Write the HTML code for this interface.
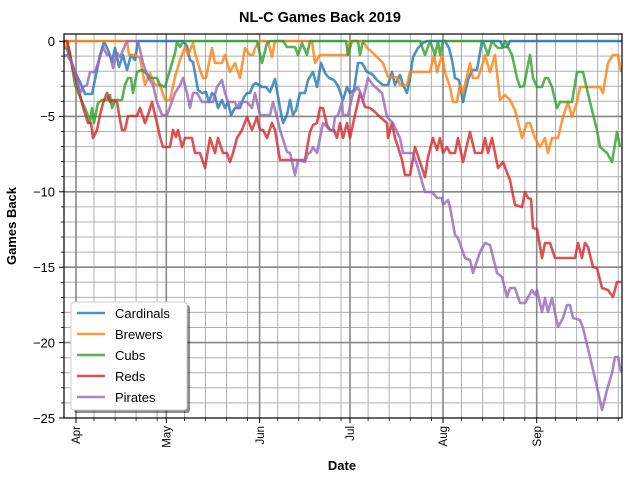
<!DOCTYPE html>
<html><head><meta charset="utf-8"><style>
html,body{margin:0;padding:0;background:#fff;}
svg{display:block;font-family:"Liberation Sans","DejaVu Sans",sans-serif;}
</style></head><body>
<svg width="640" height="480" viewBox="0 0 640 480" xmlns="http://www.w3.org/2000/svg">
<rect width="640" height="480" fill="#fff"/>
<text x="320" y="22" font-size="14.5" font-weight="bold" text-anchor="middle">NL-C Games Back 2019</text>
<!-- minor horizontal grid -->
<g stroke="#b0b0b0" stroke-width="1">
<line x1="64" x2="622" y1="56.1" y2="56.1"/><line x1="64" x2="622" y1="71.2" y2="71.2"/><line x1="64" x2="622" y1="86.2" y2="86.2"/><line x1="64" x2="622" y1="101.3" y2="101.3"/>
<line x1="64" x2="622" y1="131.5" y2="131.5"/><line x1="64" x2="622" y1="146.6" y2="146.6"/><line x1="64" x2="622" y1="161.6" y2="161.6"/><line x1="64" x2="622" y1="176.7" y2="176.7"/>
<line x1="64" x2="622" y1="206.9" y2="206.9"/><line x1="64" x2="622" y1="222" y2="222"/><line x1="64" x2="622" y1="237" y2="237"/><line x1="64" x2="622" y1="252.1" y2="252.1"/>
<line x1="64" x2="622" y1="282.3" y2="282.3"/><line x1="64" x2="622" y1="297.4" y2="297.4"/><line x1="64" x2="622" y1="312.4" y2="312.4"/><line x1="64" x2="622" y1="327.5" y2="327.5"/>
<line x1="64" x2="622" y1="357.7" y2="357.7"/><line x1="64" x2="622" y1="372.8" y2="372.8"/><line x1="64" x2="622" y1="387.8" y2="387.8"/><line x1="64" x2="622" y1="402.9" y2="402.9"/>
<!-- minor vertical -->
<line y1="34" y2="418" x1="94" x2="94"/><line y1="34" y2="418" x1="115.1" x2="115.1"/><line y1="34" y2="418" x1="136.1" x2="136.1"/><line y1="34" y2="418" x1="157.1" x2="157.1"/>
<line y1="34" y2="418" x1="184.5" x2="184.5"/><line y1="34" y2="418" x1="205.5" x2="205.5"/><line y1="34" y2="418" x1="226.5" x2="226.5"/><line y1="34" y2="418" x1="247.6" x2="247.6"/>
<line y1="34" y2="418" x1="277.7" x2="277.7"/><line y1="34" y2="418" x1="298.8" x2="298.8"/><line y1="34" y2="418" x1="319.9" x2="319.9"/><line y1="34" y2="418" x1="341" x2="341"/>
<line y1="34" y2="418" x1="368.1" x2="368.1"/><line y1="34" y2="418" x1="389.2" x2="389.2"/><line y1="34" y2="418" x1="410.3" x2="410.3"/><line y1="34" y2="418" x1="431.4" x2="431.4"/>
<line y1="34" y2="418" x1="461.5" x2="461.5"/><line y1="34" y2="418" x1="482.6" x2="482.6"/><line y1="34" y2="418" x1="503.7" x2="503.7"/><line y1="34" y2="418" x1="524.8" x2="524.8"/>
<line y1="34" y2="418" x1="555.5" x2="555.5"/><line y1="34" y2="418" x1="576.6" x2="576.6"/><line y1="34" y2="418" x1="597.6" x2="597.6"/><line y1="34" y2="418" x1="618.3" x2="618.3"/>
</g>
<!-- major grid -->
<g stroke="#888" stroke-width="1.6">
<line x1="64" x2="622" y1="41.3" y2="41.3"/><line x1="64" x2="622" y1="116.4" y2="116.4"/><line x1="64" x2="622" y1="191.8" y2="191.8"/><line x1="64" x2="622" y1="267.2" y2="267.2"/><line x1="64" x2="622" y1="342.6" y2="342.6"/>
<line y1="34" y2="418" x1="76" x2="76"/><line y1="34" y2="418" x1="166.3" x2="166.3"/><line y1="34" y2="418" x1="259.6" x2="259.6"/><line y1="34" y2="418" x1="350" x2="350"/><line y1="34" y2="418" x1="443" x2="443"/><line y1="34" y2="418" x1="536.7" x2="536.7"/>
</g>
<g fill="none" stroke-width="2.6" stroke-linejoin="round" stroke-opacity="0.8">
<polyline stroke="#1f77b4" points="64,47 67,49 70,58 75,72 80,82 85,94 92,94 95,80 100,55 104,42 108,50 112,62 115,48 119,67 123,55 127,70 131,55 135,60 138,41 183,41 187,46 190,60 193,62 198,90 202,93 206,92 209,102 212,93 215,96 218,108 222,100 225,108 228,102 231,115 235,108 240,108 244,97 247,93 250,93 253,85 256,83 259,85 262,87 266,87 270,92 275,79 280,108 283,123 287,115 290,100 293,115 296,110 300,93 305,93 308,80 313,72 317,87 321,63 325,73 329,78 334,80 338,86 343,100 347,87 350,93 354,90 358,63 362,63 367,72 372,74 377,80 383,85 388,85 392,72 395,85 400,75 403,85 407,93 410,78 413,57 418,48 423,43 427,41 445,41 449,48 452,60 455,78 459,80 463,102 468,80 472,70 477,70 482,41 500,41 503,47 507,47 510,41 622,41"/>
<polyline stroke="#ff7f0e" points="64,41 65,47 67,47 69,41 127,41 129,55 135,55 140,58 145,85 150,73 155,85 160,85 165,100 170,100 175,77 180,60 185,47 188,55 193,43 195,53 200,70 203,78 206,78 212,48 215,63 222,63 225,55 230,72 235,63 240,78 245,48 250,55 253,55 255,48 260,41 268,41 272,57 275,41 312,41 315,63 320,55 327,55 347,55 350,41 363,41 367,48 372,52 378,58 383,63 388,77 397,77 400,85 407,85 410,72 427,72 430,72 434,55 437,72 442,55 445,72 450,87 453,102 457,102 460,85 463,93 470,63 473,78 478,78 483,63 485,55 490,72 495,55 500,100 505,95 510,100 515,110 522,138 527,123 530,123 535,138 540,147 545,138 548,153 552,138 558,138 563,117 568,102 572,117 577,102 580,87 600,87 603,93 608,63 613,55 618,55 621,72"/>
<polyline stroke="#2ca02c" points="64,41 67,41 70,53 75,85 80,97 87,113 90,123 92,108 94,123 98,103 102,100 107,100 110,95 112,108 115,100 122,100 125,85 128,78 131,78 133,93 137,72 142,70 145,72 150,78 157,78 160,85 165,87 170,70 175,53 177,42 180,47 183,41 257,41 262,63 267,43 270,41 283,41 287,47 295,47 298,55 302,43 307,55 310,41 346,41 348,55 352,41 358,41 360,55 363,41 420,41 425,55 430,41 435,55 438,41 440,55 443,41 480,41 483,41 488,55 492,41 495,45 498,48 502,48 505,41 508,47 512,55 517,78 520,87 524,86 527,70 530,55 533,78 537,87 542,87 545,78 548,78 552,87 557,108 560,102 572,102 577,72 583,72 590,102 597,130 600,147 607,153 612,162 617,132 620,147"/>
<polyline stroke="#d62728" points="64,41 67,41 70,55 73,70 78,87 83,107 88,123 91,123 93,138 97,130 100,115 103,103 107,93 110,102 113,100 117,102 120,120 122,130 125,130 128,116 137,116 140,108 145,123 148,115 152,102 155,115 157,123 160,137 163,147 170,147 173,130 176,137 178,130 182,147 185,138 192,138 195,153 200,153 205,168 210,138 215,153 218,138 223,153 227,153 230,162 233,153 237,138 242,130 247,117 252,130 257,117 260,130 263,130 267,138 272,123 275,130 280,160 300,160 305,160 308,143 310,132 313,125 317,123 320,108 323,108 327,125 330,130 334,130 337,138 340,123 343,138 347,123 350,138 355,115 360,93 365,107 370,108 375,112 380,117 387,123 388,138 392,123 395,138 398,147 402,160 405,175 410,175 415,147 420,162 425,177 428,157 433,138 437,150 440,138 443,153 447,147 450,153 455,153 458,138 463,162 470,132 475,153 482,153 485,138 488,153 492,138 498,168 503,162 510,180 515,205 522,207 525,192 528,198 531,199 533,228 537,229 542,258 545,243 550,243 555,258 575,258 578,243 582,258 585,243 588,247 593,267 597,268 602,288 608,290 613,297 617,282 621,282"/>
<polyline stroke="#9467bd" points="64,56 67,55 72,63 77,78 80,93 83,87 87,85 90,72 95,72 100,57 103,47 107,55 110,55 113,68 117,53 120,57 127,41 138,41 143,63 148,77 153,85 157,102 162,115 167,115 170,107 175,93 180,85 183,78 187,93 190,108 193,93 197,93 202,102 213,102 217,87 222,80 225,93 228,102 235,102 237,108 240,102 247,102 252,108 255,93 260,115 270,115 273,102 277,117 280,130 287,152 290,153 295,175 298,160 305,162 308,153 310,153 313,147 317,153 320,138 323,123 330,130 333,131 335,117 338,115 342,102 343,115 348,115 353,93 358,87 363,100 368,78 373,85 382,93 387,117 393,123 397,132 400,138 403,153 413,153 418,168 425,192 432,192 437,198 442,198 443,205 448,200 450,207 455,235 458,238 465,258 470,260 473,273 480,252 485,243 490,245 497,273 502,277 507,297 510,288 515,288 520,303 525,303 532,290 535,295 537,290 542,312 545,298 548,312 552,298 558,327 563,318 567,305 570,305 573,318 580,320 583,328 590,357 597,387 602,410 607,390 612,373 615,357 618,357 621,372"/>
</g>
<!-- axes frame -->
<rect x="64" y="34" width="558" height="384" fill="none" stroke="#000" stroke-width="1.2"/>
<!-- y ticks -->
<g stroke="#000" stroke-width="1">
<line x1="59" x2="64" y1="41.3" y2="41.3"/><line x1="59" x2="64" y1="116.4" y2="116.4"/><line x1="59" x2="64" y1="191.8" y2="191.8"/><line x1="59" x2="64" y1="267.2" y2="267.2"/><line x1="59" x2="64" y1="342.6" y2="342.6"/><line x1="59" x2="64" y1="418" y2="418"/>
<line x1="76" x2="76" y1="418" y2="423"/><line x1="166.3" x2="166.3" y1="418" y2="423"/><line x1="259.6" x2="259.6" y1="418" y2="423"/><line x1="350" x2="350" y1="418" y2="423"/><line x1="443" x2="443" y1="418" y2="423"/><line x1="536.7" x2="536.7" y1="418" y2="423"/>
</g>
<g stroke="#000" stroke-width="0.8">
<line x1="61" x2="64" y1="56.1" y2="56.1"/><line x1="61" x2="64" y1="71.2" y2="71.2"/><line x1="61" x2="64" y1="86.2" y2="86.2"/><line x1="61" x2="64" y1="101.3" y2="101.3"/>
<line x1="61" x2="64" y1="131.5" y2="131.5"/><line x1="61" x2="64" y1="146.6" y2="146.6"/><line x1="61" x2="64" y1="161.6" y2="161.6"/><line x1="61" x2="64" y1="176.7" y2="176.7"/>
<line x1="61" x2="64" y1="206.9" y2="206.9"/><line x1="61" x2="64" y1="222" y2="222"/><line x1="61" x2="64" y1="237" y2="237"/><line x1="61" x2="64" y1="252.1" y2="252.1"/>
<line x1="61" x2="64" y1="282.3" y2="282.3"/><line x1="61" x2="64" y1="297.4" y2="297.4"/><line x1="61" x2="64" y1="312.4" y2="312.4"/><line x1="61" x2="64" y1="327.5" y2="327.5"/>
<line x1="61" x2="64" y1="357.7" y2="357.7"/><line x1="61" x2="64" y1="372.8" y2="372.8"/><line x1="61" x2="64" y1="387.8" y2="387.8"/><line x1="61" x2="64" y1="402.9" y2="402.9"/>
<line y1="418" y2="421" x1="94" x2="94"/><line y1="418" y2="421" x1="115.1" x2="115.1"/><line y1="418" y2="421" x1="136.1" x2="136.1"/><line y1="418" y2="421" x1="157.1" x2="157.1"/>
<line y1="418" y2="421" x1="184.5" x2="184.5"/><line y1="418" y2="421" x1="205.5" x2="205.5"/><line y1="418" y2="421" x1="226.5" x2="226.5"/><line y1="418" y2="421" x1="247.6" x2="247.6"/>
<line y1="418" y2="421" x1="277.7" x2="277.7"/><line y1="418" y2="421" x1="298.8" x2="298.8"/><line y1="418" y2="421" x1="319.9" x2="319.9"/><line y1="418" y2="421" x1="341" x2="341"/>
<line y1="418" y2="421" x1="368.1" x2="368.1"/><line y1="418" y2="421" x1="389.2" x2="389.2"/><line y1="418" y2="421" x1="410.3" x2="410.3"/><line y1="418" y2="421" x1="431.4" x2="431.4"/>
<line y1="418" y2="421" x1="461.5" x2="461.5"/><line y1="418" y2="421" x1="482.6" x2="482.6"/><line y1="418" y2="421" x1="503.7" x2="503.7"/><line y1="418" y2="421" x1="524.8" x2="524.8"/>
<line y1="418" y2="421" x1="555.5" x2="555.5"/><line y1="418" y2="421" x1="576.6" x2="576.6"/><line y1="418" y2="421" x1="597.6" x2="597.6"/><line y1="418" y2="421" x1="618.3" x2="618.3"/>
</g>
<g font-size="13" text-anchor="end">
<text x="55" y="46">0</text><text x="55" y="121">−5</text><text x="55" y="196.5">−10</text><text x="55" y="272">−15</text><text x="55" y="347.5">−20</text><text x="55" y="423">−25</text>
</g>
<g font-size="11.5" text-anchor="end">
<text transform="translate(80,426) rotate(-90)">Apr</text>
<text transform="translate(170.5,426) rotate(-90)">May</text>
<text transform="translate(264,426) rotate(-90)">Jun</text>
<text transform="translate(354,426) rotate(-90)">Jul</text>
<text transform="translate(447,426) rotate(-90)">Aug</text>
<text transform="translate(541,426) rotate(-90)">Sep</text>
</g>
<text x="342" y="470" font-size="13" font-weight="bold" text-anchor="middle">Date</text>
<text transform="translate(16,226) rotate(-90)" font-size="13" font-weight="bold" text-anchor="middle">Games Back</text>
<!-- legend -->
<rect x="74" y="305" width="116" height="108" rx="3" fill="#000" opacity="0.45"/>
<rect x="71" y="302" width="116" height="108" rx="3" fill="#fff" stroke="#ccc" stroke-width="1"/>
<g stroke-width="2.6" stroke-opacity="0.8">
<line x1="77" x2="105" y1="313" y2="313" stroke="#1f77b4"/>
<line x1="77" x2="105" y1="334" y2="334" stroke="#ff7f0e"/>
<line x1="77" x2="105" y1="355" y2="355" stroke="#2ca02c"/>
<line x1="77" x2="105" y1="376" y2="376" stroke="#d62728"/>
<line x1="77" x2="105" y1="397" y2="397" stroke="#9467bd"/>
</g>
<g font-size="13">
<text x="115" y="318">Cardinals</text>
<text x="115" y="339">Brewers</text>
<text x="115" y="360">Cubs</text>
<text x="115" y="381">Reds</text>
<text x="115" y="402">Pirates</text>
</g>
</svg>
</body></html>
